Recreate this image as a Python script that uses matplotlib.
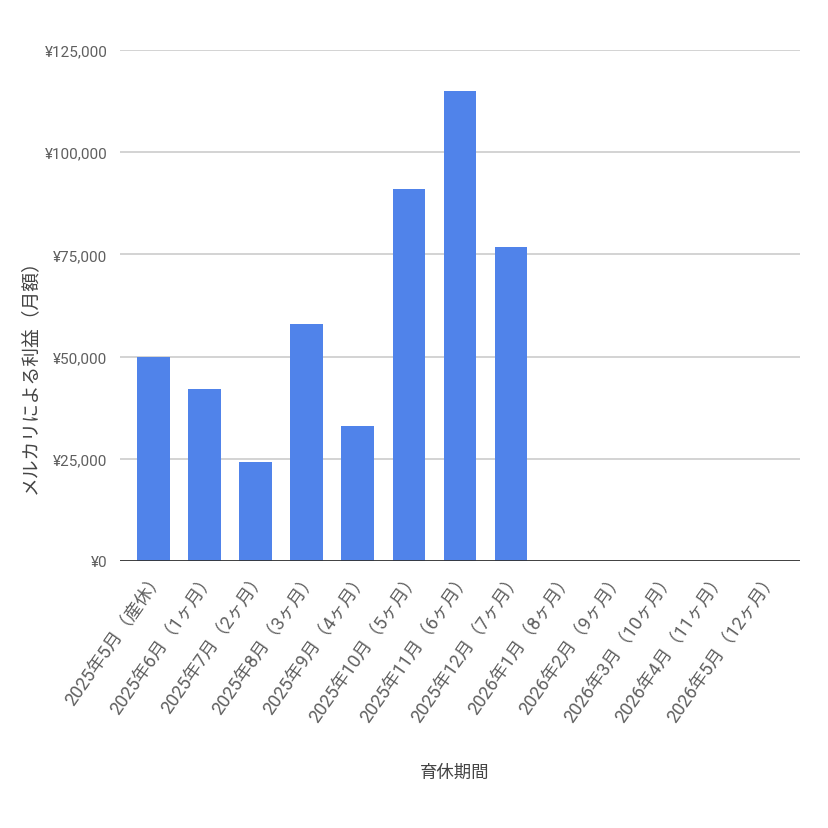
import matplotlib
matplotlib.use("Agg")
from matplotlib import pyplot as plt
from matplotlib.ticker import FuncFormatter
from matplotlib.transforms import ScaledTranslation

plt.rcParams['font.family'] = ['Roboto', 'Noto Sans CJK JP', 'DejaVu Sans']

months = [
    '2025年5月（産休）', '2025年6月（1ヶ月）', '2025年7月（2ヶ月）', '2025年8月（3ヶ月）',
    '2025年9月（4ヶ月）', '2025年10月（5ヶ月）', '2025年11月（6ヶ月）', '2025年12月（7ヶ月）',
    '2026年1月（8ヶ月）', '2026年2月（9ヶ月）', '2026年3月（10ヶ月）', '2026年4月（11ヶ月）',
    '2026年5月（12ヶ月）',
]
profit = [49800, 42100, 24300, 58000, 33000, 91100, 115000, 76700, 0, 0, 0, 0, 0]
yticks = [0, 25000, 50000, 75000, 100000, 125000]

fig = plt.figure(figsize=(8.29, 8.29), dpi=100)
ax = fig.add_axes([0.1448, 0.3221, 0.8202, 0.6164])

x = list(range(len(months)))
ax.bar(x, profit, width=0.64, color='#5083EA', zorder=3)

ax.set_ylim(0, 125000)
ax.set_xlim(-0.65, len(months) - 0.35)
ax.set_yticks(yticks)
ax.yaxis.set_major_formatter(FuncFormatter(lambda v, p: '¥{:,.0f}'.format(v)))
ax.grid(axis='y', color='#cccccc', linewidth=1.2, zorder=0)
ax.axhline(0, color='#333333', linewidth=2, zorder=4)

for s in ax.spines.values():
    s.set_visible(False)

ax.tick_params(axis='y', length=0, pad=9, labelsize=11, labelcolor='#5f5f5f')
ax.tick_params(axis='x', length=0, pad=9, labelsize=13, labelcolor='#5f5f5f')
ax.set_xticks(x)
ax.set_xticklabels(months, rotation=55, ha='right', va='center', rotation_mode='anchor')
shift = ScaledTranslation(7 / 100, 0, fig.dpi_scale_trans)
for lab in ax.get_xticklabels():
    lab.set_transform(lab.get_transform() + shift)

fig.text(30 / 829, 1 - 372 / 829, 'メルカリによる利益（月額）', rotation=90,
         ha='center', va='center', fontsize=13.5, color='#444444')
fig.text(455 / 829, 1 - 773 / 829, '育休期間', ha='center', va='center',
         fontsize=12.5, color='#444444')

fig.savefig('out.png', dpi=100, facecolor='white')
